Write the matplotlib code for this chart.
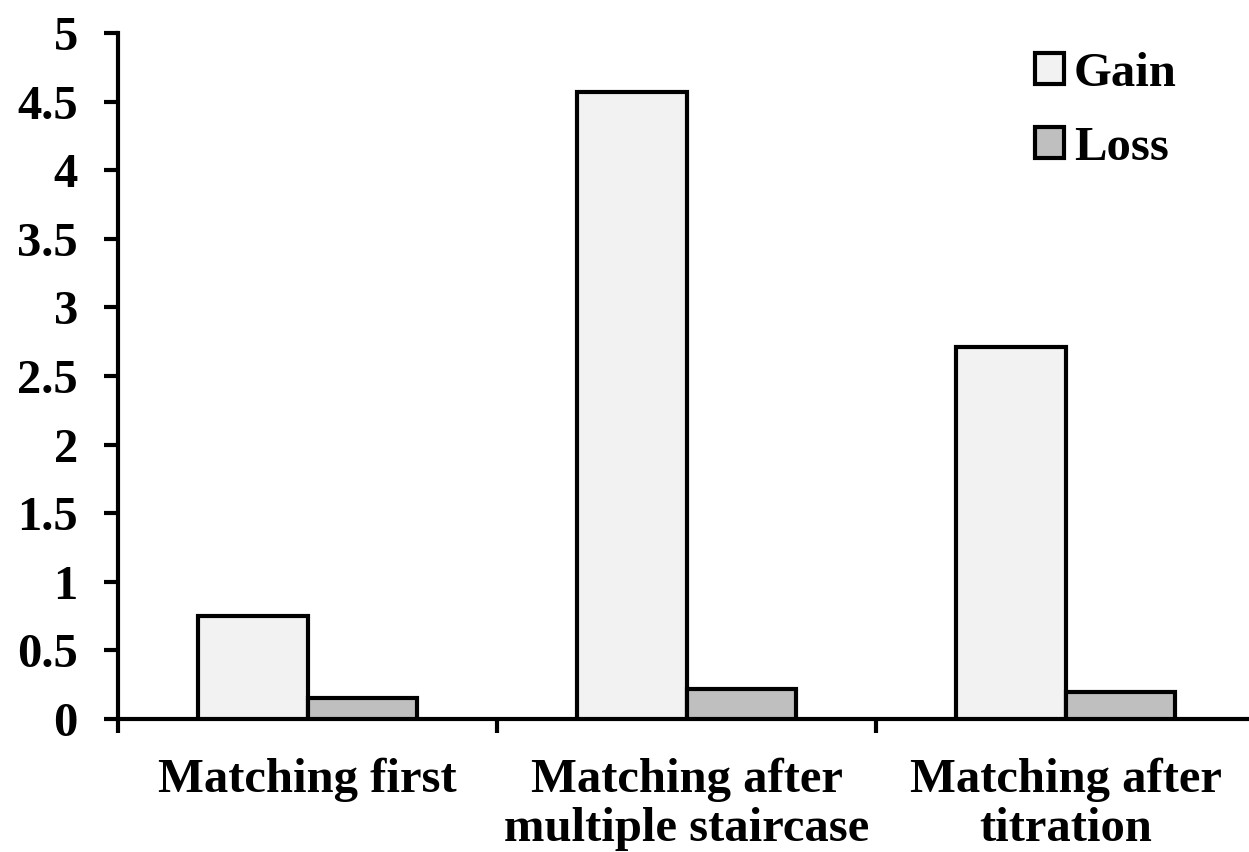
import matplotlib.pyplot as plt
import numpy as np

# data
categories = ['Matching first', 'Matching after\nmultiple staircase', 'Matching after\ntitration']
gain = [0.75, 4.57, 2.71]
loss = [0.15, 0.22, 0.20]
yticks = [0, 0.5, 1, 1.5, 2, 2.5, 3, 3.5, 4, 4.5, 5]
ytick_labels = ['0', '0.5', '1', '1.5', '2', '2.5', '3', '3.5', '4', '4.5', '5']

plt.rcParams['font.family'] = ['Liberation Serif', 'DejaVu Serif']
plt.rcParams['font.weight'] = 'bold'

fig = plt.figure(figsize=(12.49, 8.52), dpi=100)
ax = fig.add_axes([0.0945, 0.1561, 0.9103, 0.8052])

x = np.arange(len(categories)) + 0.5
width = 0.288
ax.bar(x - width / 2, gain, width, color='#F2F2F2', edgecolor='black',
       linewidth=3, label='Gain', zorder=3)
ax.bar(x + width / 2, loss, width, color='#BFBFBF', edgecolor='black',
       linewidth=3, label='Loss', zorder=3)

ax.set_xlim(0, 3)
ax.set_ylim(0, 5)

# category boundaries get the ticks, labels sit in the middle
ax.set_xticks(np.arange(len(categories) + 1))
ax.set_xticklabels([])
ax.set_xticks(x, minor=True)
ax.set_xticklabels(categories, minor=True, fontsize=35, fontweight='bold',
                   linespacing=1.15)
ax.tick_params(axis='x', which='minor', length=0, pad=28)
ax.tick_params(axis='x', which='major', direction='out', length=10, width=3)

ax.set_yticks(yticks)
ax.set_yticklabels(ytick_labels, fontsize=35, fontweight='bold')
ax.tick_params(axis='y', direction='out', length=10, width=3, pad=19)

for side in ['top', 'right']:
    ax.spines[side].set_visible(False)
for side in ['left', 'bottom']:
    ax.spines[side].set_linewidth(3)

ax.legend(loc='upper right', bbox_to_anchor=(0.957, 1.015), frameon=False,
          fontsize=35, handlelength=0.6, handleheight=0.6,
          handletextpad=0.2, labelspacing=0.62, borderaxespad=0.2)

plt.savefig('out.png', dpi=100, facecolor='white')
